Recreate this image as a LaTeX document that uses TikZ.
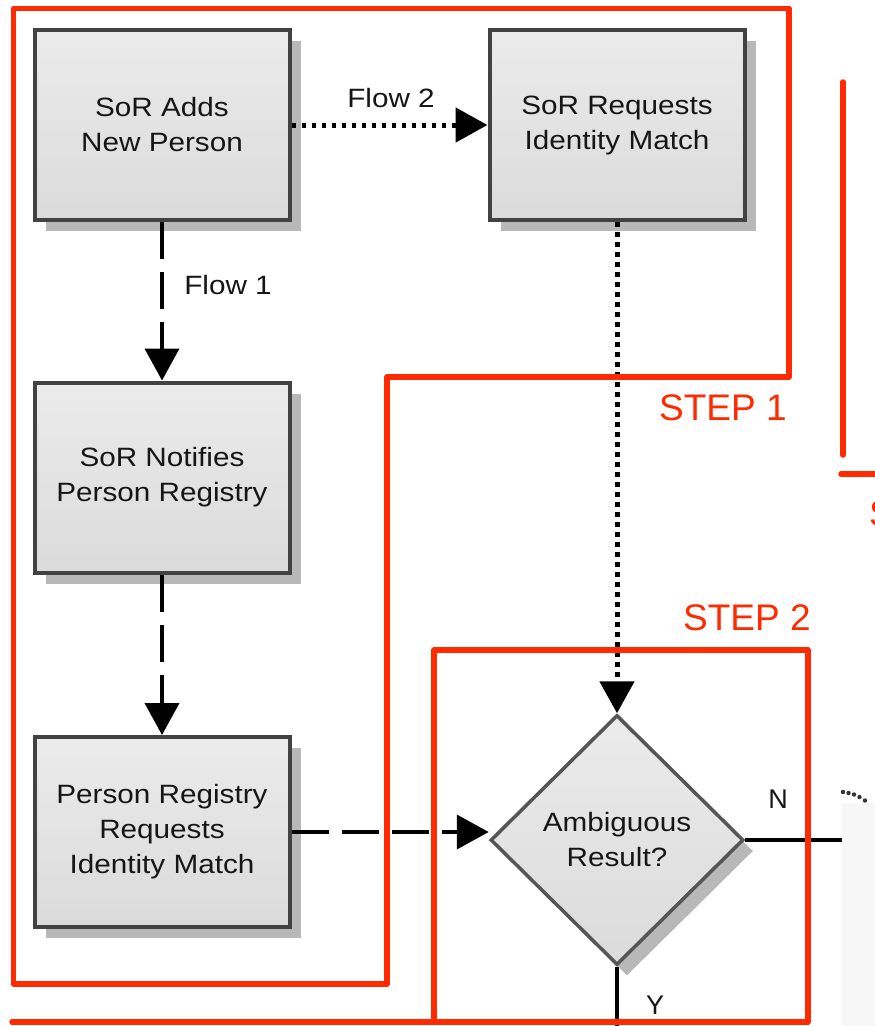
\documentclass[tikz,border=0pt]{standalone}
\usepackage{fontspec}
\setmainfont{Liberation Sans}
\newfontfamily\boxfont[FakeStretch=1.12]{Liberation Sans}
\usetikzlibrary{arrows.meta,shapes.geometric,shadows}

\definecolor{stepred}{RGB}{255,42,0}
\definecolor{boxedge}{RGB}{66,66,66}
\definecolor{boxtop}{RGB}{235,235,235}
\definecolor{boxbot}{RGB}{219,219,219}
\definecolor{shadowgray}{RGB}{184,184,184}
\definecolor{panelgray}{RGB}{247,247,247}
\definecolor{ink}{RGB}{22,22,22}

\tikzset{
  boxtext/.style={font=\boxfont\fontsize{26.5}{35}\selectfont, text=ink},
  stepbox/.style={rectangle, draw=boxedge, line width=4pt,
    top color=boxtop, bottom color=boxbot,
    minimum width=255pt, minimum height=190pt, inner sep=0pt, align=center,
    boxtext,
    drop shadow={shadow xshift=11pt, shadow yshift=-11pt, opacity=1, fill=shadowgray}},
  decbox/.style={diamond, draw=boxedge!90, line width=3.5pt,
    top color=boxtop, bottom color=boxbot,
    minimum width=253pt, minimum height=250pt, inner sep=0pt, align=center,
    boxtext,
    drop shadow={shadow xshift=10pt, shadow yshift=-11pt, opacity=1, fill=shadowgray}},
  lbl/.style={boxtext, inner sep=0pt, anchor=base},
  yn/.style={font=\fontsize{27}{27}\selectfont, text=ink, inner sep=0pt, anchor=base},
  steplabel/.style={font=\fontsize{37}{37}\selectfont, text=stepred, inner sep=0pt, anchor=base west},
  frame/.style={draw=stepred, line width=5.5pt, line join=round, line cap=round},
  bigtip/.style={-{Triangle[length=32pt,width=34pt]}},
  dashline/.style={bigtip, black, line width=4pt, dash pattern=on 37pt off 13pt},
  dotline/.style={bigtip, black, line width=5pt, dash pattern=on 4.5pt off 5.5pt},
  plainline/.style={black, line width=3.5pt},
}

\begin{document}
\begin{tikzpicture}[x=1pt, y=-1pt]
  \useasboundingbox (0,0) rectangle (875,1026);
  \clip (0,0) rectangle (875,1026);
  \fill[white] (0,0) rectangle (875,1026);
  \fill[panelgray] (842,803) rectangle (875,1026);

  % process boxes and decision
  \node[stepbox] (add)     at (162,125)   {SoR Adds\\New Person};
  \node[stepbox] (request) at (617,125)   {SoR Requests\\Identity Match};
  \node[stepbox] (notify)  at (162,477.5) {SoR Notifies\\Person Registry};
  \node[stepbox] (prreq)   at (162,832)   {Person Registry\\Requests\\Identity Match};
  \node[decbox]  (ambig)   at (617,840)   {Ambiguous\\Result?};

  % flows
  \draw[dotline]  (add.east) -- (request.west);
  \node[lbl] (flowtwo) at (391,107) {Flow 2};
  \draw[dashline] (add.south) -- (notify.north);
  \node[lbl] (flowone) at (228,294) {Flow 1};
  \draw[dashline] (notify.south) -- (prreq.north);
  \draw[dotline]  (request.south) -- (ambig.north);
  \draw[dashline] (prreq.east) -- (prreq.east -| ambig.west);

  % decision outcomes
  \coordinate (nend) at (842,840);
  \coordinate (yend) at (617,1030);
  \draw[plainline] (ambig.east) -- (nend);
  \draw[plainline] (ambig.south) -- (yend);
  \node[yn] (nlabel) at (778,808) {N};
  \node[yn] (ylabel) at (655,1014) {Y};

  % trailing connector entering from the right
  \foreach \px/\py in {843/792, 848.5/793, 854/794.5, 859.5/797, 865/800.5}
    \fill[black!80] (\px,\py) circle (2.2pt);

  % step outlines
  \draw[frame] (13.5,8.5) -- (789,8.5) -- (789,377) -- (387,377) -- (387,984)
               -- (13.5,984) -- cycle;
  \draw[frame] (434,650) rectangle (808,1022);
  \draw[frame] (12,1022) -- (434,1022);
  \draw[frame] (843,82) -- (843,455);
  \draw[frame] (841,474) -- (880,474);

  \node[steplabel] (stepone) at (659,420) {STEP 1};
  \node[steplabel] (steptwo) at (683,630) {STEP 2};
  \node[steplabel] (stepthree) at (869,526) {S};
\end{tikzpicture}
\end{document}
